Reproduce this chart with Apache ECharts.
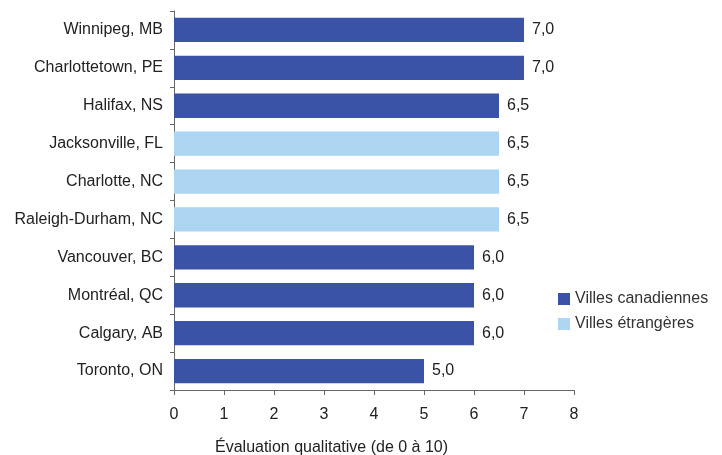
<!DOCTYPE html>
<html>
<head>
<meta charset="utf-8">
<script src="https://cdn.jsdelivr.net/npm/echarts@6/dist/echarts.min.js"></script>
<style>
  html, body { margin: 0; padding: 0; background: #fff; }
  #chart { width: 722px; height: 455px; }
</style>
</head>
<body>
<div id="chart"></div>
<script>
// Cities, top to bottom
const cities = [
  'Winnipeg, MB', 'Charlottetown, PE', 'Halifax, NS', 'Jacksonville, FL',
  'Charlotte, NC', 'Raleigh-Durham, NC', 'Vancouver, BC', 'Montréal, QC',
  'Calgary, AB', 'Toronto, ON'
];
// Scores for Canadian cities (null where the city is foreign)
const canadianScores = [7.0, 7.0, 6.5, null, null, null, 6.0, 6.0, 6.0, 5.0];
// Scores for foreign cities (null where the city is Canadian)
const foreignScores = [null, null, null, 6.5, 6.5, 6.5, null, null, null, null];
const seriesNames = ['Villes canadiennes', 'Villes étrangères'];
const axisTitle = 'Évaluation qualitative (de 0 à 10)';

const FONT = '"Liberation Sans", Arial, Helvetica, sans-serif';
const FS = 16;
const fmt = p => p.value == null ? '' : p.value.toFixed(1).replace('.', ',');

const labelStyle = {
  show: true, position: 'right', distance: 8,
  color: '#222', fontSize: FS, fontFamily: FONT, formatter: fmt
};

const chart = echarts.init(document.getElementById('chart'), null, { renderer: 'canvas' });
chart.setOption({
  animation: false,
  textStyle: { fontFamily: FONT },
  grid: { left: 174, top: 11, width: 400, height: 379, containLabel: false },
  legend: {
    orient: 'vertical', left: 553, top: 286,
    itemWidth: 12, itemHeight: 12, itemGap: 9,
    icon: 'rect',
    textStyle: { color: '#333', fontSize: FS, fontFamily: FONT },
    data: seriesNames
  },
  xAxis: {
    type: 'value', min: 0, max: 8, interval: 1,
    axisLine: { show: true, lineStyle: { color: '#666', width: 1 } },
    axisTick: { show: true, length: 5, lineStyle: { color: '#666' } },
    axisLabel: { color: '#222', fontSize: FS, fontFamily: FONT, margin: 17 },
    splitLine: { show: false }
  },
  yAxis: {
    type: 'category', data: cities, inverse: true,
    axisLine: { show: true, lineStyle: { color: '#666', width: 1 } },
    axisTick: { show: true, length: 4, alignWithLabel: false, lineStyle: { color: '#666' } },
    axisLabel: { color: '#222', fontSize: FS, fontFamily: FONT, margin: 11 }
  },
  series: [
    {
      name: seriesNames[0], type: 'bar', data: canadianScores,
      barCategoryGap: '36%', barGap: '-100%',
      itemStyle: { color: '#3b53a6' },
      label: labelStyle
    },
    {
      name: seriesNames[1], type: 'bar', data: foreignScores,
      barCategoryGap: '36%', barGap: '-100%',
      itemStyle: { color: '#acd5f1' },
      label: labelStyle
    }
  ],
  graphic: [{
    type: 'text', left: 215, top: 440,
    style: { text: axisTitle, fill: '#222', fontSize: FS, fontFamily: FONT }
  }]
});
</script>
</body>
</html>
